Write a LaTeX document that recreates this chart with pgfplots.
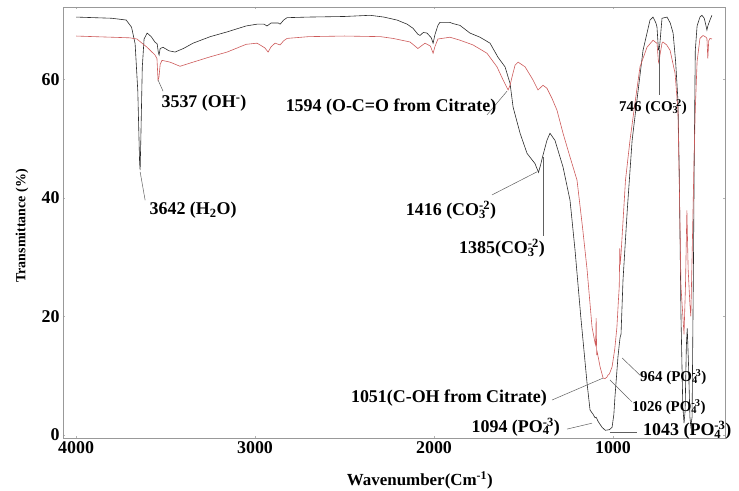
\documentclass[border=0pt]{standalone}
\usepackage{fontspec}
\setmainfont{Liberation Serif}
\usepackage{pgfplots}
\pgfplotsset{compat=1.18}
\definecolor{blk}{HTML}{2B2B2B}
\definecolor{rd}{HTML}{CD5A5A}
\definecolor{ld}{HTML}{606060}
\newcommand\sbsp[2]{\rlap{\textsubscript{#1}}\textsuperscript{#2}}
\newcommand\fs[1]{\fontsize{#1}{#1}\selectfont\bfseries}
\begin{document}
\begin{tikzpicture}[x=1bp,y=1bp]
\useasboundingbox (0,0) rectangle (739,491);
\begin{axis}[at={(63bp,53bp)}, anchor=south west, width=662bp, height=431bp, scale only axis,
  x dir=reverse, xmin=374, xmax=4073, ymin=-0.5, ymax=72.2,
  xtick={1000,2000,3000,4000}, ytick={0,20,40,60},
  /pgf/number format/assume math mode=true,
  /pgf/number format/set thousands separator={},
  ticklabel style={font=\fs{18}},
  major tick length=2bp, tick style={color=gray!60},
  axis line style={color=gray!80, line width=0.8pt},
  xlabel={Wavenumber(Cm\textsuperscript{-1})},
  ylabel={Transmittance (\%)},
  xlabel style={font=\fs{17}, at={(axis description cs:0.539,-0.0975)}, anchor=center},
  ylabel style={font=\fs{14}, at={(axis description cs:-0.062,0.492)}, anchor=center, rotate=0},
  clip=false]
\addplot[blk, line width=0.6pt] coordinates {
(4000,70.5)(3900,70.4)(3800,70.3)(3720,70.0)(3690,68.8)(3670,66)(3655,58)(3645,46)(3642,44.7)(3638,50)(3630,62)(3620,66.8)(3603,67.8)(3580,67.2)(3560,66.3)(3547,66.0)(3540,64.5)(3536,64.1)(3530,65.2)(3514,65.4)(3480,64.8)(3447,64.6)(3400,65.2)(3346,66.1)(3250,67.2)(3156,68.0)(3050,69.0)(2989,69.3)(2950,69.3)(2933,69.0)(2910,69.5)(2870,69.5)(2860,69.3)(2840,70.0)(2821,70.4)(2700,70.5)(2500,70.6)(2357,70.8)(2280,70.5)(2207,70.0)(2150,69.3)(2117,68.6)(2090,67.6)(2078,67.4)(2060,67.9)(2039,67.8)(2015,67.0)(2005,66.1)(1995,67.5)(1978,69.1)(1967,69.6)(1911,69.6)(1894,69.4)(1855,69.1)(1799,67.8)(1743,67.1)(1687,66.1)(1642,63.7)(1603,62.1)(1575,59.3)(1558,55.3)(1519,50.9)(1480,47.5)(1436,45.8)(1416,44.3)(1405,45.5)(1391,47.2)(1369,49.7)(1352,50.9)(1324,49.7)(1279,45.2)(1240,39.6)(1212,31.2)(1180,20)(1145,8.8)(1128,4.2)(1111,3.5)(1100,2.9)(1094,3.0)(1083,2.3)(1061,1.3)(1043,0.8)(1020,0.9)(1005,1.3)(995,3.5)(989,6.4)(972,13.2)(964,15.5)(960,16.5)(955,17.0)(944,26.1)(920,38)(893,49.7)(866,56.5)(832,64.9)(793,70)(776,70.5)(760,69.5)(754,68.8)(746,65)(743,64.9)(738,66)(726,70.3)(698,70.5)(680,69.5)(664,67.8)(650,63)(637,56.5)(630,45)(620,20)(610,5)(603,2)(597,4)(590,15)(585,18)(578,12)(570,3)(565,1.5)(558,3)(550,30)(545,50)(540,64.9)(530,69)(514,70.5)(503,70.8)(490,70.3)(480,69)(475,68.3)(470,69)(458,70)(447,70.8)
};
\addplot[rd, line width=0.6pt] coordinates {
(4000,67.3)(3900,67.2)(3800,67.1)(3700,67.0)(3660,66.8)(3603,65.4)(3559,64.1)(3548,63.5)(3542,59.9)(3537,60.3)(3530,62.5)(3520,63.2)(3475,62.9)(3419,62.2)(3346,62.9)(3250,63.8)(3156,64.6)(3050,65.9)(2989,66.1)(2972,65.8)(2945,65.3)(2927,64.6)(2910,65.5)(2888,66.1)(2860,65.8)(2840,66.5)(2821,66.9)(2700,67.2)(2500,67.3)(2300,67.2)(2229,66.9)(2134,66.3)(2090,65.2)(2050,66.1)(2020,65.6)(2005,64.4)(1995,65.5)(1978,66.8)(1911,67.1)(1855,66.6)(1782,65.8)(1704,64.4)(1648,62.1)(1614,59.9)(1586,58.2)(1575,59.0)(1564,60.4)(1547,62.4)(1530,62.9)(1491,62.1)(1447,59.9)(1419,58.2)(1391,59.0)(1369,58.5)(1341,56.8)(1313,54.8)(1279,50.9)(1240,46.9)(1201,43)(1170,35)(1145,28)(1117,18.2)(1100,15.5)(1097,15.2)(1094,19.7)(1091,13.5)(1088,14.0)(1072,11.5)(1055,9.6)(1045,9.5)(1033,9.8)(1028,10.1)(1020,10.3)(1005,11.5)(990,14.5)(978,18.2)(970,22.5)(965,25)(962,31.5)(960,28.7)(955,30.5)(950,33)(930,43)(905,49.7)(877,56)(849,62.1)(810,65.4)(776,66.6)(760,66.2)(754,66.1)(746,63)(743,62.7)(738,64)(726,66.1)(721,66.3)(700,65.8)(681,64.9)(653,61.0)(637,54.8)(628,40)(620,25)(603,17)(595,25)(587,37.9)(580,28)(570,22)(565,20)(558,30)(548,45)(540,55)(530,63)(514,66.9)(497,67.4)(480,67.1)(475,66.9)(470,63.5)(465,66.5)(458,66.9)(447,66.8)
};
% annotations
\begin{scope}[every node/.style={inner sep=0pt}]
\draw[ld, line width=0.5pt] (axis cs:3542,59.9) -- (axis cs:3514,58.0);
\node[font=\fs{18}] at (axis cs:3285,56.0) {3537 (OH\textsuperscript{-})};
\draw[ld, line width=0.5pt] (axis cs:3642,44.4) -- (axis cs:3614,39.6);
\node[font=\fs{18}] at (axis cs:3346,37.9) {3642 (H\textsubscript{2}O)};
\draw[ld, line width=0.5pt] (axis cs:1592,58.0) -- (axis cs:1704,54.0);
\node[font=\fs{18}] at (axis cs:2240,55.3) {1594 (O-C=O from Citrate)};
\draw[ld, line width=0.5pt] (axis cs:1424,44.4) -- (axis cs:1676,40.5);
\node[font=\fs{18}] at (axis cs:1905,37.9) {1416 (CO\sbsp{3}{-2})};
\draw[ld, line width=0.5pt] (axis cs:1391,46.9) -- (axis cs:1391,33.6);
\node[font=\fs{18}] at (axis cs:1620,31.5) {1385(CO\sbsp{3}{-2})};
\draw[ld, line width=0.5pt] (axis cs:743,64.9) -- (axis cs:743,57.3);
\node[font=\fs{15}] at (axis cs:776,55.3) {746 (CO\sbsp{3}{-2})};
\draw[ld, line width=0.5pt] (axis cs:1341,5.9) -- (axis cs:1056,9.6);
\node[font=\fs{18}, anchor=east] at (axis cs:1368,6.24) {1051(C-OH from Citrate)};
\draw[ld, line width=0.5pt] (axis cs:1257,1.0) -- (axis cs:1117,2.0);
\node[font=\fs{18}, anchor=east] at (axis cs:1296,1.35) {1094 (PO\sbsp{4}{-3})};
\draw[ld, line width=0.5pt] (axis cs:1017,0.5) -- (axis cs:866,0.5);
\node[font=\fs{18}, anchor=west] at (axis cs:832,0.84) {1043 (PO\sbsp{4}{-3})};
\draw[ld, line width=0.5pt] (axis cs:1017,9.3) -- (axis cs:894,5.6);
\node[font=\fs{15}, anchor=west] at (axis cs:894,4.7) {1026 (PO\sbsp{4}{-3})};
\draw[ld, line width=0.5pt] (axis cs:949,13.0) -- (axis cs:849,10.1);
\node[font=\fs{15}, anchor=west] at (axis cs:849,9.8) {964 (PO\sbsp{4}{-3})};
\end{scope}
\end{axis}
\end{tikzpicture}
\end{document}
